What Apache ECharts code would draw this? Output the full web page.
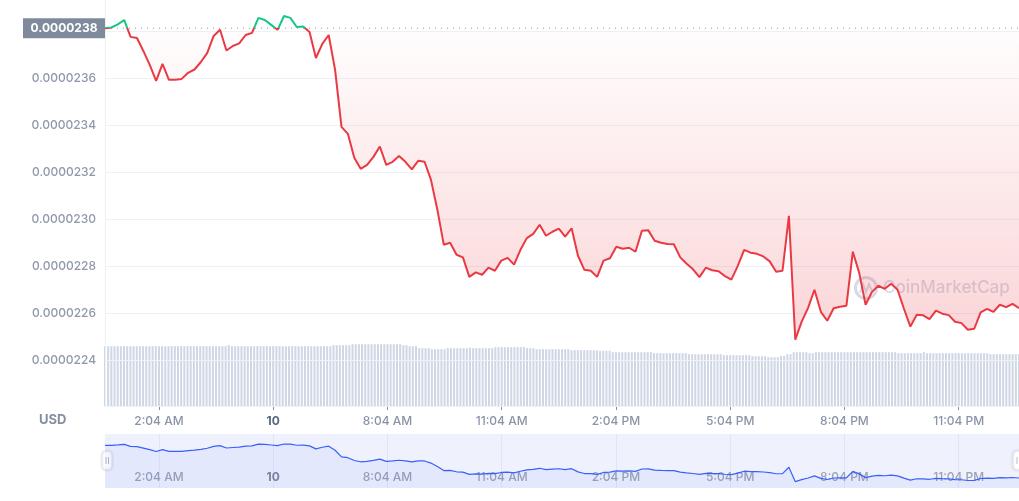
<!DOCTYPE html>
<html><head><meta charset="utf-8">
<script src="https://cdn.jsdelivr.net/npm/echarts@6/dist/echarts.min.js"></script>
<style>html,body{margin:0;padding:0;background:#fff}#c{width:1019px;height:501px}</style>
</head><body><div id="c"></div>
<script>
// Price every 10 minutes (USD)
const price = [
2.3813e-5,2.3816e-5,2.3829e-5,2.3848e-5,2.3776e-5,2.3771e-5,2.3716e-5,2.3657e-5,2.3589e-5,2.3661e-5,
2.3593e-5,2.3593e-5,2.3597e-5,2.3623e-5,2.3637e-5,2.3669e-5,2.3708e-5,2.3780e-5,2.3806e-5,2.3718e-5,
2.3737e-5,2.3748e-5,2.3784e-5,2.3793e-5,2.3857e-5,2.3848e-5,2.3827e-5,2.3806e-5,2.3865e-5,2.3857e-5,
2.3818e-5,2.3820e-5,2.3797e-5,2.3686e-5,2.3746e-5,2.3784e-5,2.3635e-5,2.3393e-5,2.3363e-5,2.3261e-5,
2.3214e-5,2.3231e-5,2.3265e-5,2.3309e-5,2.3231e-5,2.3244e-5,2.3269e-5,2.3244e-5,2.3212e-5,2.3248e-5,
2.3244e-5,2.3167e-5,2.3040e-5,2.2891e-5,2.2899e-5,2.2848e-5,2.2837e-5,2.2754e-5,2.2773e-5,2.2763e-5,
2.2793e-5,2.2780e-5,2.2823e-5,2.2835e-5,2.2806e-5,2.2869e-5,2.2919e-5,2.2937e-5,2.2976e-5,2.2929e-5,
2.2946e-5,2.2959e-5,2.2925e-5,2.2961e-5,2.2844e-5,2.2784e-5,2.2780e-5,2.2754e-5,2.2823e-5,2.2833e-5,
2.2882e-5,2.2874e-5,2.2878e-5,2.2861e-5,2.2950e-5,2.2952e-5,2.2908e-5,2.2899e-5,2.2894e-5,2.2893e-5,
2.2837e-5,2.2810e-5,2.2786e-5,2.2753e-5,2.2793e-5,2.2782e-5,2.2778e-5,2.2757e-5,2.2742e-5,2.2801e-5,
2.2869e-5,2.2857e-5,2.2852e-5,2.2841e-5,2.2820e-5,2.2776e-5,2.2780e-5,2.3014e-5,2.2486e-5,2.2563e-5,
2.2622e-5,2.2699e-5,2.2605e-5,2.2567e-5,2.2620e-5,2.2627e-5,2.2631e-5,2.2861e-5,2.2771e-5,2.2635e-5,
2.2690e-5,2.2716e-5,2.2703e-5,2.2725e-5,2.2699e-5,2.2618e-5,2.2542e-5,2.2593e-5,2.2590e-5,2.2574e-5,
2.2610e-5,2.2597e-5,2.2591e-5,2.2563e-5,2.2557e-5,2.2529e-5,2.2533e-5,2.2603e-5,2.2618e-5,2.2605e-5,
2.2635e-5,2.2625e-5,2.2639e-5,2.2621e-5
];
// Volume every 5 minutes (millions USD)
const volume = [
14.95,14.95,14.95,14.95,14.95,14.95,14.95,14.95,14.95,14.95,14.95,14.95,
14.95,14.95,14.95,14.95,14.95,14.95,14.95,14.95,14.95,14.95,14.95,14.95,
14.95,14.95,14.95,14.95,14.95,14.95,14.95,14.95,14.95,14.95,14.95,14.95,
14.95,14.95,14.95,15.2,14.95,14.95,14.95,14.95,14.95,14.95,14.95,14.95,
14.95,14.95,14.95,14.95,14.95,14.95,14.95,14.95,14.95,14.95,14.95,14.95,
14.95,14.95,14.95,14.95,14.95,14.95,14.95,14.95,14.95,14.95,14.95,14.95,
15.2,15.2,15.2,15.2,15.2,15.2,15.45,15.45,15.45,15.45,15.45,15.45,
15.45,15.45,15.45,15.45,15.45,15.45,15.45,15.45,15.45,15.45,15.2,15.2,
14.95,14.95,14.95,14.45,14.45,14.45,14.45,14.2,14.2,14.2,14.2,14.2,
14.45,14.45,14.45,14.45,14.45,14.45,14.45,14.6,14.45,14.45,14.45,14.45,
14.45,14.45,14.45,14.7,14.7,14.7,14.7,14.7,14.7,14.7,14.7,14.7,
14.7,14.45,14.45,14.45,14.2,14.2,14.2,14.2,14.2,14.2,14.2,14.2,
14.2,14.2,14.2,13.95,13.95,13.95,13.95,13.95,13.95,13.95,13.95,13.95,
13.8,13.8,13.8,13.8,13.45,13.45,13.45,13.45,13.45,13.45,13.45,13.45,
13.45,13.45,13.45,13.45,13.45,13.2,13.2,13.2,13.2,13.2,13.2,13.2,
13.2,13.2,13.2,13.2,12.95,12.95,12.95,12.95,12.95,12.95,12.95,12.95,
12.95,12.95,12.95,12.7,12.7,12.7,12.7,12.7,12.7,12.7,12.7,12.7,
12.45,12.45,12.45,12.45,12.45,12.2,12.2,12.2,12.2,12.5,12.5,12.95,
12.95,13.45,13.45,13.45,13.45,13.45,13.2,13.2,13.45,13.45,13.45,13.45,
13.45,13.45,13.45,13.45,13.45,13.45,13.45,13.45,13.45,13.45,13.45,13.45,
13.45,13.45,13.45,13.45,13.45,13.45,13.45,13.45,13.45,13.45,13.2,13.2,
13.2,13.2,13.2,13.2,13.2,13.2,13.45,13.2,13.2,13.2,13.2,13.2,
13.2,13.2,13.2,13.2,13.2,13.2,13.2,13.2,13.2,13.2,13.2,13.2,
13.2,13.2,13.2,12.95,12.95,12.95,12.95,12.95,12.95,12.95,12.95,12.95,
12.95
];
const tickLabels = ['2:04 AM','10','8:04 AM','11:04 AM','2:04 PM','5:04 PM','8:04 PM','11:04 PM'];
const tickStart = 17, tickStep = 36;
const yTickLabels = ['0.0000224','0.0000226','0.0000228','0.0000230','0.0000232','0.0000234','0.0000236'];
const currency = 'USD';
const watermark = 'CoinMarketCap';

const slots = volume.map((_, i) => {
  const k = i - tickStart;
  if (k >= 0 && k % tickStep === 0 && tickLabels[k / tickStep] !== undefined) return tickLabels[k / tickStep];
  return '';
});
const priceCats = price.map((_, i) => String(i));
const refPrice = price[0];                       // opening price of the period
const refLine = [[0, refPrice], [price.length - 1, refPrice]];
const showIdx = (idx, val) => val !== '';
const labelFmt = v => v === '10' ? '{b|10}' : v;

const chart = echarts.init(document.getElementById('c'), null, {renderer: 'canvas'});
const option = {
  animation: false,
  textStyle: {fontFamily: 'Inter, sans-serif'},
  grid: [
    {left: 105, right: 0, top: 0, bottom: 95},
    {left: 105, right: 0, top: 434, bottom: 13, show: true, backgroundColor: '#eff2fd', borderWidth: 0}
  ],
  xAxis: [
    {type: 'category', gridIndex: 0, data: slots, boundaryGap: false,
     axisLine: {show: true, lineStyle: {color: '#e8ecf2'}},
     axisTick: {show: true, interval: showIdx, length: 4, lineStyle: {color: '#858ea1'}},
     axisLabel: {interval: showIdx, formatter: labelFmt, color: '#8a93a6', fontSize: 12, fontWeight: 500, margin: 9,
       rich: {b: {fontWeight: 'bold', color: '#58667e', fontSize: 12}}},
     splitLine: {show: false}},
    {type: 'category', gridIndex: 0, data: priceCats, boundaryGap: false, show: false},
    {type: 'category', gridIndex: 1, data: slots, boundaryGap: false,
     axisLine: {show: false}, axisTick: {show: false},
     axisLabel: {inside: true, interval: showIdx, formatter: labelFmt, color: '#9aa2b5', fontSize: 12, fontWeight: 500, margin: 5,
       rich: {b: {fontWeight: 'bold', color: '#7c859a', fontSize: 12}}},
     splitLine: {show: true, interval: showIdx, lineStyle: {color: '#dfe5f7'}}},
    {type: 'category', gridIndex: 1, data: priceCats, boundaryGap: false, show: false}
  ],
  yAxis: [
    {type: 'value', gridIndex: 0, min: 2.2204e-5, max: 2.3933e-5, splitNumber: 9, z: 2,
     axisLine: {show: true, lineStyle: {color: '#eff2f5'}},
     axisTick: {show: false},
     axisLabel: {color: '#8f98ab', fontSize: 12, fontWeight: 500, margin: 9,
       formatter: v => { const s = v.toFixed(7); return yTickLabels.indexOf(s) >= 0 ? s : ''; }},
     splitLine: {showMaxLine: false, lineStyle: {color: '#eff2f5'}}},
    {type: 'value', gridIndex: 0, min: 0, max: 101.5, show: false, splitLine: {show: false}},
    {type: 'value', gridIndex: 1, min: 2.2255e-5, max: 2.423e-5, show: false, splitLine: {show: false}}
  ],
  visualMap: {
    type: 'piecewise', show: false, seriesIndex: 1, dimension: 1,
    pieces: [{gt: refPrice, lte: 3e-5, color: '#16c784'}, {gte: 2e-5, lte: refPrice, color: '#ea3943'}],
    outOfRange: {color: '#ea3943'}
  },
  series: [
    {type: 'bar', xAxisIndex: 0, yAxisIndex: 1, data: volume, barWidth: '64%', silent: true, z: 1,
     itemStyle: {color: '#cfd6e4'}},
    {type: 'line', xAxisIndex: 1, yAxisIndex: 0, data: price, showSymbol: false, z: 4, silent: true,
     lineStyle: {width: 2},
     areaStyle: {origin: refPrice, color: new echarts.graphic.LinearGradient(0, 0, 0, 1, [
       {offset: 0, color: 'rgba(234,57,67,0)'},
       {offset: 1, color: 'rgba(234,57,67,0.3)'}])}},
    {type: 'line', xAxisIndex: 3, yAxisIndex: 2, data: price, showSymbol: false, silent: true,
     lineStyle: {width: 1.2, color: '#3861fb'}, itemStyle: {color: '#3861fb'},
     areaStyle: {color: 'rgba(56,97,251,0.09)'}},
    // reference (opening price) dotted line
    {type: 'line', xAxisIndex: 1, yAxisIndex: 0, data: refLine, symbol: 'none', silent: true, z: 3,
     lineStyle: {color: '#8f98ab', type: [1, 5], width: 1}},
    // reference price tag on the y axis
    {type: 'scatter', xAxisIndex: 1, yAxisIndex: 0, data: [refLine[0]], clip: false, silent: true, z: 6,
     symbol: 'rect', symbolSize: [82, 20], symbolOffset: [-41, 0],
     itemStyle: {color: '#808a9d', opacity: 1},
     label: {show: true, position: 'inside', formatter: refPrice.toFixed(7), color: '#fff',
       fontSize: 12, fontWeight: 'bold', fontFamily: 'Inter, sans-serif'}}
  ],
  graphic: [
    {type: 'text', left: 39, top: 414, style: {text: currency, fill: '#858ea1', font: 'bold 13px Inter, sans-serif'}},
    {type: 'group', z: 3, children: [
      {type: 'circle', shape: {cx: 866, cy: 288, r: 10.5}, style: {fill: 'none', stroke: 'rgba(185,195,214,0.6)', lineWidth: 3}},
      {type: 'polyline', shape: {points: [[860, 293], [863, 284], [866, 292], [869, 284], [872, 291]]}, style: {fill: 'none', stroke: 'rgba(185,195,214,0.6)', lineWidth: 2}},
      {type: 'text', x: 883, y: 288, style: {text: watermark, fill: 'rgba(185,195,214,0.6)', font: '500 17px Inter, sans-serif', textVerticalAlign: 'middle'}}
    ]},
    {type: 'group', z: 10, children: [
      {type: 'rect', shape: {x: 102, y: 451, width: 10, height: 19, r: 4}, style: {fill: '#fff', stroke: '#dfe3ea', lineWidth: 1, shadowBlur: 3, shadowColor: 'rgba(0,0,0,0.12)'}},
      {type: 'line', shape: {x1: 106, y1: 457, x2: 106, y2: 464}, style: {stroke: '#b5bccb', lineWidth: 1}},
      {type: 'line', shape: {x1: 108.5, y1: 457, x2: 108.5, y2: 464}, style: {stroke: '#b5bccb', lineWidth: 1}},
      {type: 'rect', shape: {x: 1013, y: 451, width: 10, height: 19, r: 4}, style: {fill: '#fff', stroke: '#dfe3ea', lineWidth: 1, shadowBlur: 3, shadowColor: 'rgba(0,0,0,0.12)'}},
      {type: 'line', shape: {x1: 1017, y1: 457, x2: 1017, y2: 464}, style: {stroke: '#b5bccb', lineWidth: 1}}
    ]}
  ]
};
chart.setOption(option);
</script>
</body></html>
